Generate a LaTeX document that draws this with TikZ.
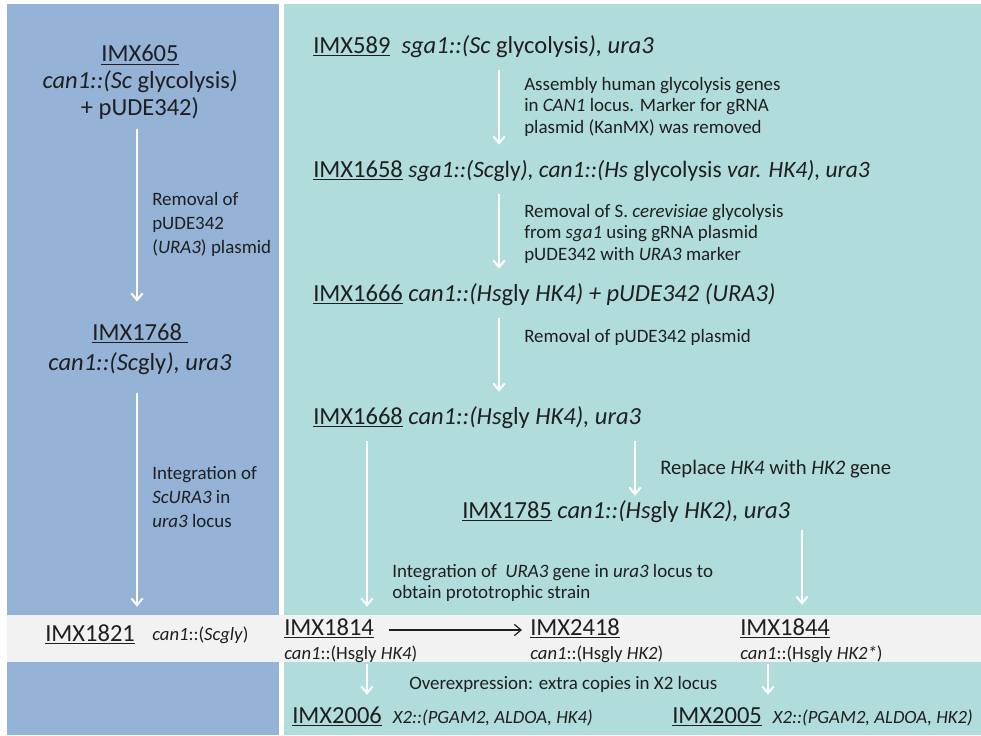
\documentclass[tikz,border=0pt]{standalone}
\usepackage{fontspec}
\setmainfont{Carlito}
\usetikzlibrary{arrows.meta}
\definecolor{ink}{HTML}{1F1F1F}
\definecolor{panelBlue}{HTML}{95B3D7}
\definecolor{panelTeal}{HTML}{B0DCDB}
\definecolor{stripGrey}{HTML}{F2F2F2}
\tikzset{
  every node/.append style = {text=ink, inner sep=0pt},
  % --- strains -------------------------------------------------------------
  strain/.style   = {font=\fontsize{18.4}{20}\selectfont, anchor=west,
                     text height=12.5pt, text depth=4pt},
  strainblk/.style= {font=\fontsize{18.4}{20}\selectfont, align=center,
                     anchor=north},
  geno/.style     = {font=\fontsize{14}{16}\selectfont, anchor=west,
                     text height=10pt, text depth=3pt},
  % --- construction steps ---------------------------------------------------
  note/.style     = {font=\fontsize{14.2}{16}\selectfont, align=left,
                     anchor=north west},
  lineage/.style  = {draw=white, line width=1.5pt, shorten <=8.25pt, shorten >=12pt,
                     -{Straight Barb[length=1.8mm,width=3mm]}},
  hkswap/.style   = {draw=ink, line width=0.9pt, shorten <=11.25pt, shorten >=6pt,
                     -{Straight Barb[length=1.8mm,width=3mm]}},
}
\newcommand{\imx}[1]{\underline{IMX#1}}
\newcommand{\xtwo}[1]{{\fontsize{14}{16}\selectfont\itshape #1}}

\begin{document}
\begin{tikzpicture}[x=0.75pt,y=-0.75pt]

% ============================ background ===================================
\fill[white] (0,0) rectangle (981,735);
\fill[panelBlue] (7,4) rectangle (279,735);
\fill[panelTeal] (284,4) rectangle (981,735);
\fill[stripGrey] (7,615) rectangle (981,662);

\coordinate (colL) at (137,0);
\coordinate (colA) at (499,0);
\coordinate (colB) at (367,0);
\coordinate (colC) at (635,0);
\coordinate (colD) at (802,0);
\coordinate (colF) at (768,0);

% ======================= LEFT: Sc glycolysis lineage ======================
\node[strainblk] (imx605) at (140,45)
     {\imx{605}\\ \textit{can1::(Sc} glycolysis\textit{)}\\ + pUDE342)};
\node[strainblk] (imx1768) at (140,323)
     {\underline{IMX1768\ }\\[3pt] \textit{can1::(Sc}gly\textit{), ura3}};

\node[note, font=\fontsize{14.2}{18}\selectfont] (n6) at (152,192)
     {Removal of\\ pUDE342\\ (\textit{URA3}) plasmid};
\node[note, font=\fontsize{14.2}{18}\selectfont] (n7) at (152,466)
     {Integration of\\ \textit{ScURA3} in\\ \textit{ura3} locus};

% ======================= RIGHT: Hs glycolysis lineage =====================
\node[strain] (imx589)  at (313,48)
     {\imx{589}\ \ \textit{sga1::(Sc} glycolysis\textit{), ura3}};
\node[strain] (imx1658) at (313,172)
     {\imx{1658} {\fontsize{17.6}{20}\selectfont\textit{sga1::(Sc}gly\textit{), can1::(Hs}
      glycolysis \textit{var. HK4), ura3}}};
\node[strain] (imx1666) at (313,296)
     {\imx{1666} \textit{can1::(Hs}gly \textit{HK4) + pUDE342 (URA3)}};
\node[strain] (imx1668) at (313,419)
     {\imx{1668} \textit{can1::(Hs}gly \textit{HK4), ura3}};
\node[strain] (imx1785) at (462,513)
     {\imx{1785} \textit{can1::(Hs}gly \textit{HK2), ura3}};

\node[note] (n1) at (524,77)
     {Assembly human glycolysis genes\\ in \textit{CAN1} locus. Marker for gRNA\\
      plasmid (KanMX) was removed};
\node[note] (n2) at (524,204)
     {Removal of S. \textit{cerevisiae} glycolysis\\ from \textit{sga1} using gRNA plasmid\\
      pUDE342 with \textit{URA3} marker};
\node[note] (n3) at (524,329) {Removal of pUDE342 plasmid};
\node[note, font=\fontsize{15.5}{17}\selectfont] (n4) at (660,460)
     {Replace \textit{HK4} with \textit{HK2} gene};
\node[note] (n5) at (392,564)
     {Integration of\ \ \textit{URA3} gene in \textit{ura3} locus to\\ obtain prototrophic strain};

% ============================ prototrophic strip ===========================
\node[strain] (imx1821) at (45,636)  {\imx{1821}};
\node[geno]   (g1821)   at (152,636) {\textit{can1}::(\textit{Scgly})};
\node[strain] (imx1814) at (284,630) {\imx{1814}};
\node[geno]   (g1814)   at (284,655) {\textit{can1}::(Hsgly \textit{HK4})};
\node[strain] (imx2418) at (530,630) {\imx{2418}};
\node[geno]   (g2418)   at (530,655) {\textit{can1}::(Hsgly \textit{HK2})};
\node[strain] (imx1844) at (740,630) {\imx{1844}};
\node[geno]   (g1844)   at (740,655) {\textit{can1}::(Hsgly \textit{HK2*})};

% ============================ overexpression ===============================
\node[note] (n8) at (409,676) {Overexpression: extra copies in X2 locus};
\node[strain] (imx2006) at (292,718)
     {\imx{2006}\ \ \xtwo{X2::(PGAM2, ALDOA, HK4)}};
\node[strain] (imx2005) at (672,718)
     {\imx{2005}\ \ \xtwo{X2::(PGAM2, ALDOA, HK2)}};

% ================================ arrows ===================================
\draw[lineage, shorten <=7.3pt, shorten >=16pt]
     (imx605.south -| colL) -- (imx1768.north -| colL);
\draw[lineage, shorten <=13pt, shorten >=13.5pt]
     (imx1768.south -| colL) -- (imx1821.north -| colL);

\draw[lineage] (imx589.south -| colA)  -- (imx1658.north -| colA);
\draw[lineage] (imx1658.south -| colA) -- (imx1666.north -| colA);
\draw[lineage] (imx1666.south -| colA) -- (imx1668.north -| colA);
\draw[lineage, shorten >=9pt] (imx1668.south -| colB) -- (imx1814.north -| colB);
\draw[lineage, shorten >=4.5pt] (imx1668.south -| colC) -- (imx1785.north -| colC);
\draw[lineage, shorten <=4.5pt, shorten >=10.5pt] (imx1785.south -| colD) -- (imx1844.north -| colD);

\draw[lineage, shorten <=0pt, shorten >=9pt] (g1814.south -| colB) -- (imx2006.north -| colB);
\draw[lineage, shorten <=0pt, shorten >=9pt] (g1844.south -| colF) -- (imx2005.north -| colF);

\draw[hkswap] (imx1814.east) -- (imx2418.west);

\end{tikzpicture}
\end{document}
